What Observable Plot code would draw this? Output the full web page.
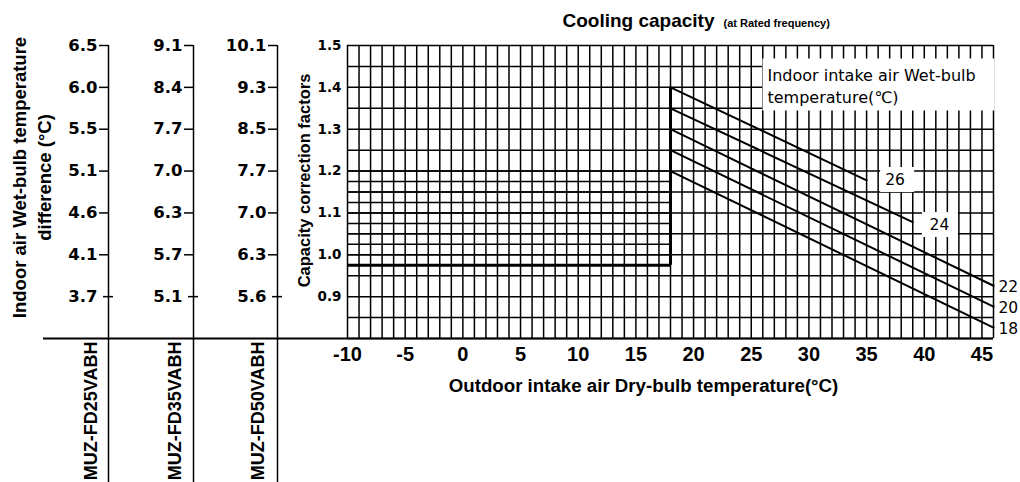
<!DOCTYPE html>
<html><head><meta charset="utf-8">
<script src="https://cdn.jsdelivr.net/npm/d3@7"></script>
<script src="https://cdn.jsdelivr.net/npm/@observablehq/plot@0.6"></script>
<style>
body{margin:0;background:#fff;}
#chart{position:relative;width:1020px;height:482px;overflow:hidden;}
</style></head><body><div id="chart"></div>
<script>
// ---------- data ----------
const factorTicks = [1.5, 1.4, 1.3, 1.2, 1.1, 1.0, 0.9];
const models = ["MUZ-FD25VABH", "MUZ-FD35VABH", "MUZ-FD50VABH"];
const diff25 = ["6.5", "6.0", "5.5", "5.1", "4.6", "4.1", "3.7"];
const diff35 = ["9.1", "8.4", "7.7", "7.0", "6.3", "5.7", "5.1"];
const diff50 = ["10.1", "9.3", "8.5", "7.7", "7.0", "6.3", "5.6"];
const xTicks = [-10, -5, 0, 5, 10, 15, 20, 25, 30, 35, 40, 45];
const xDomain = [-10, 46];
const yDomain = [0.8, 1.5];
const wetBulb = [26, 24, 22, 20, 18];
const startX = [18, 18, 18, 18, 18];
const startY = [1.40, 1.35, 1.30, 1.25, 1.20];
const endX = [35, 39, 46, 46, 46];
const endY = [1.178, 1.078, 0.926, 0.876, 0.826];
const xGrid = d3.range(xDomain[0], xDomain[1] + 1);          // 1 °C grid
const yGrid = d3.range(16, 31).map(d => d / 20);               // 0.05 grid
const fineY = d3.range(39, 49).map(d => d / 40);               // 0.025 grid, 0.975..1.2
const boxX = [-10, 18];
const boxBottom = 0.975;
const title1 = "Cooling capacity";
const title2 = "(at Rated frequency)";
const xTitle = "Outdoor intake air Dry-bulb temperature(°C)";
const yTitle = "Capacity correction factors";
const leftTitle = "Indoor air Wet-bulb temperature\ndifference (°C)";
const legendText = "Indoor intake air Wet-bulb\ntemperature(℃)";

// ---------- derived tables ----------
const lines = [];
wetBulb.forEach((wb, i) => {
  lines.push({wb, x: startX[i], y: startY[i]});
  lines.push({wb, x: endX[i], y: endY[i]});
});
const ends = wetBulb.map((wb, i) => ({wb, x: endX[i], y: endY[i]}));

const F = '"Liberation Sans", Arial, sans-serif';
const FD = '"DejaVu Sans", Verdana, sans-serif';
const leftLabels = [diff25, diff35, diff50];
const leftDx = [-239, -154, -70];
const modelDx = [-17, -18, -19];

const marks = [];
// grid
marks.push(Plot.ruleX(xGrid, {stroke: "#000", strokeWidth: 1.5}));
marks.push(Plot.ruleY(yGrid, {x1: xDomain[0], x2: xDomain[1], stroke: "#000", strokeWidth: 1.5}));
marks.push(Plot.ruleY(fineY, {x1: boxX[0], x2: boxX[1], stroke: "#000", strokeWidth: 1.5}));
// thick box
marks.push(Plot.ruleX([boxX[1]], {y1: boxBottom, y2: startY[0], stroke: "#000", strokeWidth: 3}));
marks.push(Plot.ruleY([boxBottom], {x1: boxX[0], x2: boxX[1], stroke: "#000", strokeWidth: 3}));
// long bottom line
marks.push(Plot.ruleY([yDomain[0]], {x1: xDomain[0], x2: xDomain[1], insetLeft: -304, stroke: "#000", strokeWidth: 2}));
// curves
marks.push(Plot.line(lines, {x: "x", y: "y", z: "wb", stroke: "#000", strokeWidth: 2}));

// left secondary axes
leftLabels.forEach((labels, k) => {
  marks.push(Plot.ruleX([xDomain[0]], {dx: leftDx[k], insetBottom: -150, stroke: "#000", strokeWidth: 1.5}));
  marks.push(Plot.ruleY(factorTicks.slice(0, 6), {x1: xDomain[0], x2: xDomain[0], insetLeft: -9,
    dx: leftDx[k], stroke: "#000", strokeWidth: 1.5}));
  marks.push(Plot.ruleY(factorTicks.slice(6), {x1: xDomain[0], x2: xDomain[0], insetLeft: -5, insetRight: -5,
    dx: leftDx[k], stroke: "#000", strokeWidth: 1.5}));
  marks.push(Plot.axisY(factorTicks, {
    anchor: "left", dx: leftDx[k], tickSize: 0, tickPadding: 11,
    tickFormat: d => labels[factorTicks.indexOf(d)],
    fontWeight: "bold", fontSize: 16.5, fontFamily: FD, label: null
  }));
  marks.push(Plot.text([models[k]], {
    frameAnchor: "bottom-left", rotate: -90, textAnchor: "end", lineAnchor: "middle",
    dx: leftDx[k] + modelDx[k], dy: 3, fontWeight: "bold", fontSize: 18
  }));
});

// main axes
marks.push(Plot.axisY(factorTicks, {anchor: "left", tickSize: 0, tickPadding: 6,
  tickFormat: d3.format(".1f"), fontWeight: "bold", fontSize: 13.5, fontFamily: FD, label: null}));
marks.push(Plot.axisX(xTicks, {anchor: "bottom", tickSize: 0, tickPadding: 8,
  tickFormat: d => String(d), fontWeight: "bold", fontSize: 20, label: null}));

// axis titles
marks.push(Plot.text([yTitle], {frameAnchor: "left", textAnchor: "middle", lineAnchor: "middle",
  rotate: -90, dx: -43, dy: -11.5, fontWeight: "bold", fontSize: 16.5}));
marks.push(Plot.text([leftTitle], {frameAnchor: "left", textAnchor: "middle", lineAnchor: "middle",
  rotate: -90, dx: -317, dy: -14.5, fontWeight: "bold", fontSize: 18.5, lineHeight: 1.35}));
marks.push(Plot.text([xTitle], {frameAnchor: "bottom", textAnchor: "middle", lineAnchor: "middle",
  dx: -27, dy: 48, fontWeight: "bold", fontSize: 18.7}));
marks.push(Plot.text([title1], {frameAnchor: "top", textAnchor: "end", lineAnchor: "middle",
  dx: 44, dy: -25, fontWeight: "bold", fontSize: 19}));
marks.push(Plot.text([title2], {frameAnchor: "top", textAnchor: "start", lineAnchor: "middle",
  dx: 53, dy: -22, fontWeight: "bold", fontSize: 11}));

// legend box & label boxes
marks.push(Plot.frame({fill: "#fff", stroke: null,
  insetLeft: 415, insetRight: -1, insetTop: 13, insetBottom: 228}));
marks.push(Plot.text([legendText], {frameAnchor: "top-right", textAnchor: "start", lineAnchor: "middle",
  dx: -226, dy: 39, fontSize: 16, fontFamily: FD, lineHeight: 1.375}));
marks.push(Plot.rect(ends, {filter: d => d.wb === 26, x1: "x", x2: "x", y1: "y", y2: "y",
  insetLeft: 14, insetRight: -48, insetTop: -12.8, insetBottom: -12.2, fill: "#fff"}));
marks.push(Plot.rect(ends, {filter: d => d.wb === 24, x1: "x", x2: "x", y1: "y", y2: "y",
  insetLeft: 9.7, insetRight: -45.7, insetTop: -9.6, insetBottom: -15.4, fill: "#fff"}));
marks.push(Plot.text(ends, {filter: d => d.wb === 26, x: "x", y: "y", text: d => String(d.wb),
  dx: 28.5, dy: 0, fontSize: 15.5, fontFamily: FD}));
marks.push(Plot.text(ends, {filter: d => d.wb === 24, x: "x", y: "y", text: d => String(d.wb),
  dx: 26.7, dy: 3, fontSize: 15.5, fontFamily: FD}));
marks.push(Plot.text(ends, {filter: d => d.wb <= 22, x: "x", y: "y", text: d => String(d.wb),
  textAnchor: "start", dx: 5, dy: 1, fontSize: 15.5, fontFamily: FD}));

const svg = Plot.plot({
  width: 1020, height: 482,
  marginLeft: 347, marginRight: 27, marginTop: 45, marginBottom: 144,
  x: {domain: xDomain},
  y: {domain: yDomain},
  style: {fontFamily: F, color: "#000", background: "#fff", overflow: "visible"},
  marks
});
document.getElementById("chart").appendChild(svg);
</script></body></html>
